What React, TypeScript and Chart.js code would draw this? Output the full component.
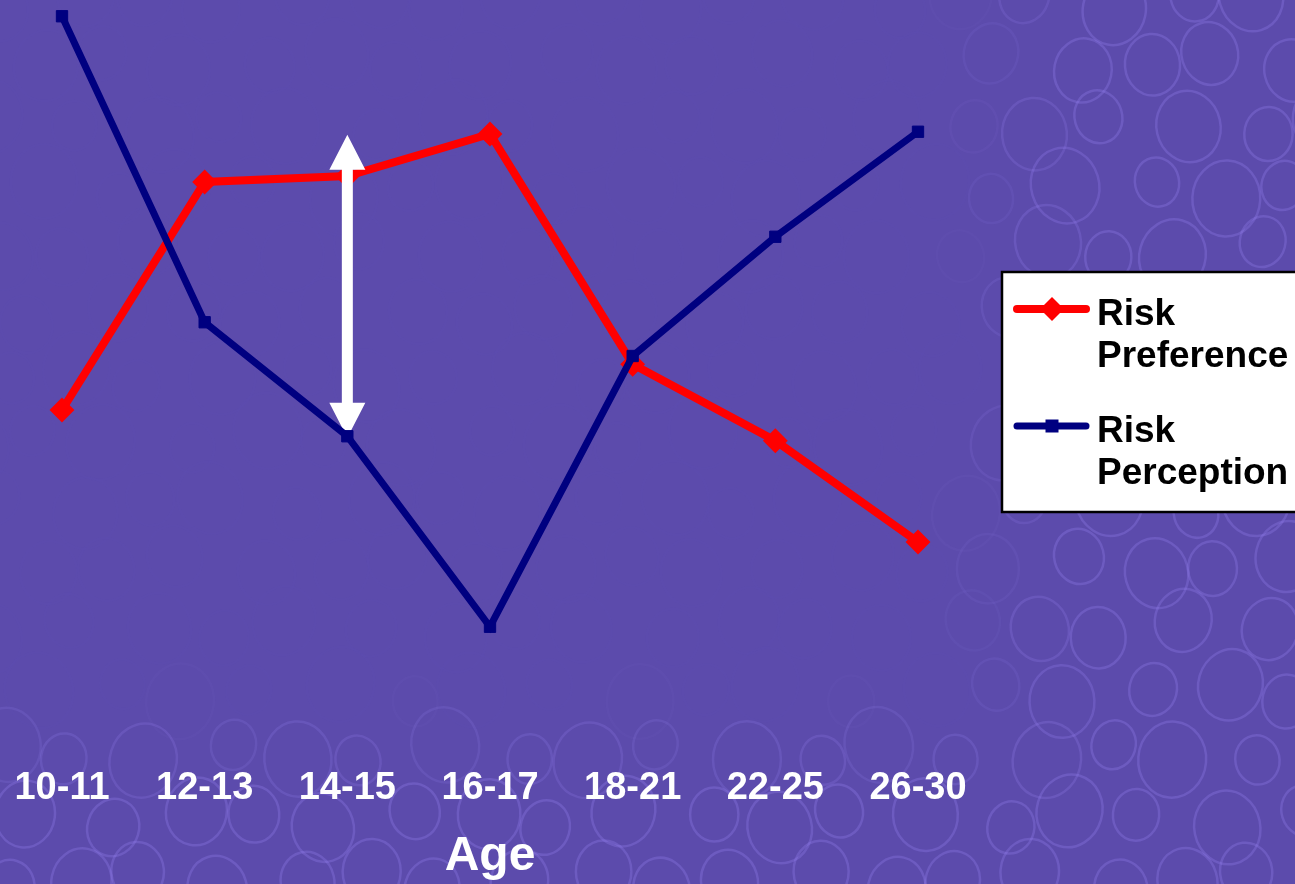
import React, { useEffect, useRef } from "react";
import { Chart, registerables } from "chart.js";

Chart.register(...registerables);

const ageGroups = ["10-11", "12-13", "14-15", "16-17", "18-21", "22-25", "26-30"];
const riskPreference = [47.2, 77.6, 78.4, 84.0, 53.3, 43.1, 29.6];
const riskPerception = [99.7, 58.9, 43.7, 18.3, 54.4, 70.3, 84.3];
const seriesLabels = ["Risk Preference", "Risk Perception"];
const axisTitle = "Age";
// the white double arrow (gap) at 14-15
const arrowIndex = 2;
const arrowTop = 83.9;
const arrowBottom = 43.5;

const FONT = '"Liberation Sans", Arial, Helvetica, sans-serif';
const BG = "#5c4bac";

const backgroundPlugin = {
  id: "bgPattern",
  beforeDraw(chart: any) {
    const { ctx, width, height } = chart;
    ctx.save();
    ctx.fillStyle = BG;
    ctx.fillRect(0, 0, width, height);
    const cell = 74;
    const clamp = (v: number) => Math.max(0, Math.min(1, v));
    for (let gy = -1; gy < height / (cell * 0.85) + 1; gy++) {
      for (let gx = -1; gx < width / cell + 1; gx++) {
        const cx = gx * cell + (gy % 2 ? cell / 2 : 0) + 12 * Math.sin(gx * 1.7 + gy * 2.3);
        const cy = gy * cell * 0.85 + 10 * Math.cos(gx * 2.1 + gy * 1.3);
        const r = 28 + 6 * Math.sin(gx * 3.1 + gy * 0.7);
        const w = 0.015 + 0.28 * clamp(Math.max((cx - 950) / 120, (cy - 690) / 100));
        ctx.strokeStyle = `rgba(150,128,240,${w})`;
        ctx.lineWidth = 2.5;
        ctx.beginPath();
        ctx.ellipse(cx, cy, r, r * 1.12, 0.3 * Math.sin(gx + gy), 0, Math.PI * 2);
        ctx.stroke();
      }
    }
    ctx.restore();
  },
};

const arrowPlugin = {
  id: "gapArrow",
  afterDatasetDraw(chart: any, args: any) {
    if (args.index !== 0) return;
    const { ctx } = chart;
    const xs = chart.scales.x;
    const ys = chart.scales.y;
    const x = xs.getPixelForValue(arrowIndex);
    const yT = ys.getPixelForValue(arrowTop);
    const yB = ys.getPixelForValue(arrowBottom);
    const shaft = 5.5;
    const head = 18;
    const hl = 35;
    ctx.save();
    ctx.fillStyle = "#ffffff";
    ctx.beginPath();
    ctx.moveTo(x, yT);
    ctx.lineTo(x + head, yT + hl);
    ctx.lineTo(x + shaft, yT + hl);
    ctx.lineTo(x + shaft, yB - hl);
    ctx.lineTo(x + head, yB - hl);
    ctx.lineTo(x, yB);
    ctx.lineTo(x - head, yB - hl);
    ctx.lineTo(x - shaft, yB - hl);
    ctx.lineTo(x - shaft, yT + hl);
    ctx.lineTo(x - head, yT + hl);
    ctx.closePath();
    ctx.fill();
    ctx.restore();
  },
};

const legendPlugin = {
  id: "boxLegend",
  afterDraw(chart: any) {
    const { ctx } = chart;
    const bx = 1002;
    const by = 272;
    ctx.save();
    ctx.fillStyle = "#ffffff";
    ctx.fillRect(bx, by, 320, 240);
    ctx.strokeStyle = "#000000";
    ctx.lineWidth = 2.5;
    ctx.strokeRect(bx, by, 320, 240);
    const rows = [309, 426];
    chart.data.datasets.forEach((ds: any, i: number) => {
      const y = rows[i];
      ctx.strokeStyle = ds.borderColor;
      ctx.lineWidth = ds.borderWidth;
      ctx.lineCap = "round";
      ctx.beginPath();
      ctx.moveTo(1017, y);
      ctx.lineTo(1086, y);
      ctx.stroke();
      ctx.fillStyle = ds.pointBackgroundColor;
      ctx.beginPath();
      if (ds.pointStyle === "rectRot") {
        const r = 12;
        ctx.moveTo(1052 - r, y);
        ctx.lineTo(1052, y - r);
        ctx.lineTo(1052 + r, y);
        ctx.lineTo(1052, y + r);
        ctx.closePath();
      } else {
        ctx.rect(1052 - 6.5, y - 6.5, 13, 13);
      }
      ctx.fill();
      ctx.fillStyle = "#000000";
      ctx.font = `bold 37px ${FONT}`;
      ctx.textBaseline = "alphabetic";
      ctx.textAlign = "left";
      const words = String(ds.label).split(" ");
      ctx.fillText(words[0], 1097, y + 16);
      ctx.fillText(words.slice(1).join(" "), 1097, y + 58);
    });
    ctx.restore();
  },
};

export default function App() {
  const ref = useRef<HTMLCanvasElement | null>(null);
  useEffect(() => {
    if (!ref.current) return;
    const chart = new Chart(ref.current, {
      type: "line",
      data: {
        labels: ageGroups,
        datasets: [
          {
            label: seriesLabels[0],
            data: riskPreference,
            borderColor: "#ff0000",
            backgroundColor: "#ff0000",
            pointBackgroundColor: "#ff0000",
            pointBorderColor: "#ff0000",
            borderWidth: 8,
            pointStyle: "rectRot",
            pointRadius: 11,
            pointBorderWidth: 2,
            tension: 0,
            order: 1,
            clip: false,
          } as any,
          {
            label: seriesLabels[1],
            data: riskPerception,
            borderColor: "#000080",
            backgroundColor: "#000080",
            pointBackgroundColor: "#000080",
            pointBorderColor: "#000080",
            borderWidth: 7,
            pointStyle: "rect",
            pointRadius: 8,
            pointBorderWidth: 1,
            tension: 0,
            order: 0,
            clip: false,
          } as any,
        ],
      },
      options: {
        animation: false,
        responsive: false,
        devicePixelRatio: 1,
        layout: { padding: { left: 62, right: 377, top: 14, bottom: 0 } },
        plugins: { legend: { display: false }, tooltip: { enabled: false } },
        scales: {
          x: {
            type: "category",
            offset: false,
            border: { display: false },
            grid: { display: false, drawTicks: false },
            ticks: {
              color: "#ffffff",
              font: { family: FONT, size: 38, weight: "bold" },
              padding: 2,
              maxRotation: 0,
              autoSkip: false,
            },
            title: {
              display: true,
              text: axisTitle,
              color: "#ffffff",
              font: { family: FONT, size: 48, weight: "bold", lineHeight: 1 },
              padding: { top: 0, bottom: 3 },
            },
            afterFit: (scale: any) => {
              scale.height = 120;
            },
          },
          y: {
            display: false,
            min: 0,
            max: 100,
          },
        },
      } as any,
      plugins: [backgroundPlugin, arrowPlugin, legendPlugin],
    });
    return () => chart.destroy();
  }, []);
  return (
    <div style={{ position: "absolute", left: 0, top: 0, width: 1295, height: 884 }}>
      <canvas ref={ref} width={1295} height={884} style={{ display: "block" }} />
    </div>
  );
}
